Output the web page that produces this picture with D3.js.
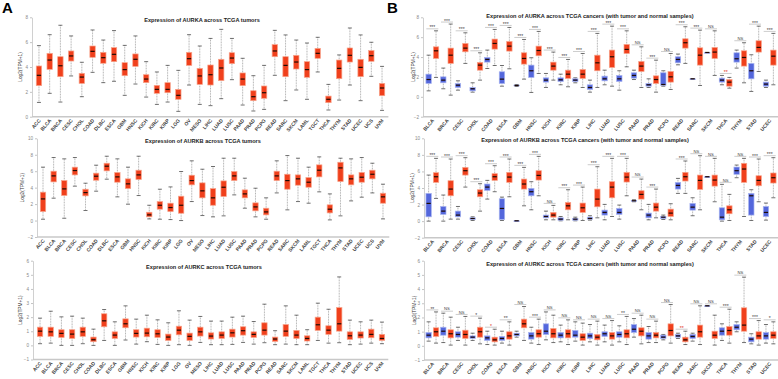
<!DOCTYPE html>
<html><head><meta charset="utf-8">
<script src="https://cdn.jsdelivr.net/npm/d3@7"></script>
<style>body{margin:0;background:#fff}svg{display:block}</style>
</head><body><svg id="c" width="778" height="379"></svg>
<script>
// ---------- categories ----------
const catsA = ["ACC","BLCA","BRCA","CESC","CHOL","COAD","DLBC","ESCA","GBM","HNSC","KICH","KIRC","KIRP","LGG","OV","MESO","LIHC","LUAD","LUSC","PAAD","PRAD","PCPG","READ","SARC","SKCM","LAML","TGCT","THCA","THYM","STAD","UCEC","UCS","UVM"];
const catsB = ["BLCA","BRCA","CESC","CHOL","COAD","ESCA","GBM","HNSC","KICH","KIRC","KIRP","LIHC","LUAD","LUSC","PAAD","PRAD","PCPG","READ","SARC","SKCM","THCA","THYM","STAD","UCEC"];
const yTicksA = [0,2,4,6,8];
const yTicksB = [-2,0,2,4,6,8,10];
const yTicksC = [-1,0,1,2,3,4,5,6];

// each box: [lower whisker, Q1, median, Q3, upper whisker]
const aurkaTumors = [[1.15,2.5,3.33,4.08,5.72],[1.88,3.81,4.56,5.1,6.6],[1.18,3.22,4.1,4.83,7.36],[3.28,4.48,4.89,5.29,6.5],[1.61,2.68,3.19,3.49,4.38],[3.57,4.78,5.26,5.69,6.98],[2.74,4.3,4.75,5.18,6.17],[2.85,4.43,5.02,5.56,6.93],[1.72,3.3,3.79,4.35,5.74],[2.63,4.05,4.62,5.05,6.5],[1.58,2.74,3.03,3.38,4.43],[0.99,1.88,2.2,2.52,3.6],[1.18,1.93,2.2,2.74,4.13],[0.43,1.4,1.72,2.2,3.73],[2.55,4.13,4.67,5.18,6.6],[0.99,2.6,3.28,3.89,5.69],[0.89,2.55,3.38,4.16,6.3],[1.45,2.9,3.92,4.62,7.03],[2.98,4.27,4.72,5.15,6.3],[0.94,2.5,3.03,3.52,4.7],[0.46,1.29,1.61,2.09,3.3],[0.59,1.48,1.93,2.47,4.13],[3.33,4.83,5.29,5.8,6.95],[1.29,3.22,4.13,4.83,6.58],[2.15,3.84,4.4,4.94,6.17],[1.4,3.17,3.79,4.43,5.93],[3.6,4.7,5.1,5.5,6.39],[0.54,1.13,1.4,1.66,2.6],[1.34,3.06,3.89,4.56,4.97],[2.55,4.4,4.94,5.53,7.14],[1.29,3.22,3.97,4.62,6.58],[3.25,4.46,4.91,5.32,5.99],[0.51,1.69,2.31,2.68,4.05]];
const aurkbTumors = [[0.16,1.09,2.63,3.45,6.49],[2.72,4.7,5.43,6.0,7.66],[0.28,3.04,3.85,4.86,7.5],[4.18,5.55,6.08,6.49,7.66],[1.22,3.0,3.4,3.81,4.54],[3.57,4.9,5.39,5.76,6.73],[5.03,6.04,6.61,6.97,7.82],[2.88,4.66,5.31,5.84,7.5],[1.99,3.89,4.46,5.07,6.49],[3.04,4.99,5.55,6.12,7.82],[0.2,0.45,0.69,1.01,1.86],[0.16,1.38,1.86,2.31,3.81],[0.12,1.09,1.58,2.11,4.09],[0,0.89,1.86,2.96,5.96],[2.31,4.34,4.86,5.51,7.26],[0.61,2.76,3.61,4.58,6.24],[0.45,1.86,2.76,3.89,6.57],[0.57,2.92,4.05,4.82,7.58],[3.12,4.86,5.43,5.96,7.58],[1.5,2.76,3.24,3.73,5.15],[0.45,1.18,1.66,2.15,3.93],[0.16,0.69,1.05,1.5,2.76],[3.36,4.86,5.43,6.0,7.26],[1.3,3.81,4.86,5.63,7.9],[2.31,4.3,5.07,5.55,7.58],[2.11,4.05,4.66,5.23,6.49],[3.49,5.31,6.12,6.77,7.74],[0.08,0.93,1.38,1.91,3.24],[0.57,4.74,6.4,7.09,7.58],[2.39,4.34,5.07,5.55,7.5],[2.84,4.66,5.27,5.84,7.66],[3.36,5.07,5.63,6.12,6.97],[0.2,2.11,2.88,3.32,4.42]];
const aurkcTumors = [[0.12,0.64,1.01,1.29,1.93],[0.16,0.64,0.96,1.29,2.42],[0,0.56,0.85,1.11,2.02],[0,0.49,0.8,1.11,2.07],[0.12,0.64,0.96,1.29,1.93],[0,0.26,0.4,0.59,1.15],[0.35,1.32,1.74,2.24,2.54],[0,0.49,0.73,0.96,1.67],[0.38,1.25,1.53,1.88,2.8],[0.09,0.59,0.85,1.11,1.86],[0.26,0.61,0.87,1.22,2.14],[0.07,0.56,0.82,1.11,1.81],[0,0.35,0.59,0.8,1.6],[0.05,0.75,1.08,1.36,2.45],[0,0.35,0.64,0.87,1.79],[0.21,0.66,0.96,1.29,2.05],[0.05,0.45,0.66,0.89,1.72],[0.05,0.49,0.73,0.96,1.72],[0.07,0.59,0.89,1.15,2.0],[0.21,0.73,1.04,1.32,2.07],[0.09,0.56,0.78,0.96,1.69],[0.19,0.73,1.08,1.6,2.92],[0.05,0.28,0.45,0.59,1.04],[0.09,0.64,1.01,1.48,2.8],[0.05,0.49,0.73,1.06,2.14],[0.05,0.31,0.49,0.68,1.11],[0.35,1.06,1.46,2.0,2.99],[0.16,0.78,1.08,1.39,2.56],[0.19,1.01,1.53,2.68,4.85],[0.05,0.42,0.68,0.96,1.79],[0.09,0.52,0.73,0.96,1.67],[0.16,0.54,0.78,1.15,1.79],[0.12,0.35,0.49,0.78,1.65]];

const aurkaNormal = [[0.6,1.34,1.74,2.28,4.19],[0.81,1.41,1.68,2.01,2.89],[0.67,0.94,1.17,1.34,1.61],[0.47,0.6,0.81,0.94,1.41],[2.85,3.49,3.76,3.96,4.7],[1.07,1.34,1.78,2.52,3.15],[1.04,1.1,1.14,1.18,1.24],[0.44,1.95,2.62,3.19,3.93],[0.94,1.48,1.68,1.91,2.35],[1.21,1.54,1.71,1.91,2.28],[1.41,1.54,1.68,1.81,1.91],[0.47,0.74,0.94,1.21,1.68],[1.21,1.61,1.81,2.08,2.68],[0.67,1.54,1.81,2.15,2.62],[1.74,1.88,2.15,2.42,2.68],[0.94,1.07,1.21,1.34,1.81],[1.07,1.17,1.24,2.42,2.62],[3.22,3.42,3.76,4.03,4.3],[1.81,1.81,1.81,1.81,1.81],[4.46,4.46,4.46,4.46,4.46],[1.21,1.48,1.68,1.88,2.15],[2.89,3.49,3.83,4.43,4.7],[0.54,1.81,2.62,3.36,4.23],[0.94,1.07,1.28,1.48,1.68]];
const aurkaTumor = [[1.95,3.86,4.63,5.03,6.64],[0.17,3.36,4.19,4.9,7.32],[3.36,4.53,4.9,5.37,6.44],[1.68,2.68,3.19,3.46,4.43],[3.15,4.8,5.37,5.81,6.78],[2.82,4.6,5.1,5.57,6.98],[1.78,3.29,3.86,4.43,5.77],[2.35,4.13,4.66,5.1,6.58],[1.68,2.68,3.09,3.49,4.5],[1.01,1.85,2.28,2.68,3.76],[0.94,1.85,2.28,2.75,4.36],[0.94,2.62,3.42,4.19,6.38],[1.07,2.95,4.03,4.7,7.11],[3.02,4.36,4.77,5.27,6.64],[0.94,2.55,3.09,3.56,5.03],[0.47,1.34,1.74,2.11,3.69],[0.74,1.48,2.01,2.55,4.36],[3.36,4.9,5.44,5.84,7.05],[1.14,3.19,4.19,4.93,6.71],[2.15,3.86,4.5,4.97,6.64],[0.87,1.07,1.48,1.74,1.95],[1.41,3.09,3.96,4.63,5.44],[2.55,4.5,4.97,5.64,7.11],[1.21,3.19,4.09,4.7,6.38]];
const aurkaSig = ["***","***","***","***","***","***","***","***","***","***","***","***","***","***","NS","***","NS","***","***","NS","**","NS","***","***"];

const aurkbNormal = [[0,0.52,2.14,3.35,5.56],[0,0.81,1.21,1.77,3.15],[0.24,0.52,0.73,1.21,1.77],[0.08,0.2,0.32,0.4,0.52],[2.66,3.71,4.11,4.48,4.92],[0.08,0.2,1.53,2.7,2.9],[0.04,0.04,0.04,0.04,0.04],[1.37,3.06,3.55,3.95,4.76],[0.16,0.4,0.56,0.73,1.21],[0.04,0.12,0.24,0.4,0.56],[0.04,0.12,0.24,0.32,0.48],[0.12,0.24,0.32,0.48,0.65],[0.16,0.73,1.05,1.33,2.02],[0.24,0.81,1.05,1.53,1.94],[2.34,2.42,2.46,2.5,2.58],[0.16,0.4,0.73,0.97,2.02],[0.2,0.32,0.48,0.56,0.73],[3.35,3.87,4.31,4.68,5.16],[0.65,1.33,1.69,2.14,2.82],[5.36,5.36,5.36,5.36,5.36],[0,0.16,0.48,1.61,4.44],[5.24,5.65,6.09,6.53,6.77],[0.08,0.73,3.06,3.35,3.79],[0.12,0.56,1.05,1.77,2.18]];
const aurkbTumor = [[2.74,4.68,5.36,5.85,7.58],[0.24,3.06,3.87,4.88,7.5],[4.11,5.56,6.09,6.49,7.66],[1.21,2.94,3.39,3.79,4.52],[3.55,4.92,5.36,5.73,6.69],[2.94,4.68,5.32,5.89,7.5],[1.85,3.87,4.48,5.08,6.49],[3.06,4.96,5.52,6.09,7.82],[0.16,0.48,0.73,1.05,1.9],[0.16,1.37,1.85,2.26,3.79],[0.08,1.05,1.61,2.18,4.11],[0.4,1.73,2.66,3.87,6.57],[0.56,2.82,4.11,4.76,7.58],[3.06,4.72,5.32,5.89,7.58],[1.37,2.66,3.23,3.67,5.08],[0.4,1.21,1.69,2.18,3.87],[0.16,0.56,0.97,1.45,2.1],[3.35,4.84,5.36,5.89,7.26],[1.37,3.83,4.92,5.56,7.9],[2.34,4.23,4.96,5.56,7.58],[0.08,0.89,1.37,1.85,3.23],[0.56,4.68,6.29,6.98,7.58],[2.34,4.27,4.92,5.48,7.5],[2.82,4.6,5.24,5.81,7.66]];
const aurkbSig = ["***","***","***","***","***","***","***","***","NS","***","***","***","***","***","NS","***","","***","NS","NS","NS","NS","***","***"];

const aurkcNormal = [[0.33,0.56,0.75,0.94,1.69],[0.23,0.75,1.03,1.31,2.3],[0.38,0.61,0.8,0.99,1.31],[0.38,0.52,0.61,0.7,0.89],[0.09,0.38,0.56,0.7,1.03],[0.19,0.38,0.52,0.66,1.03],[0.61,0.7,0.8,0.89,1.03],[0.19,0.47,0.7,0.94,1.31],[0.42,0.8,1.03,1.55,2.39],[0.28,0.56,0.75,0.94,1.46],[0.33,0.61,0.75,1.08,1.69],[0.28,0.52,0.7,0.89,1.5],[0.28,0.66,0.85,0.99,1.46],[0.28,0.61,0.8,0.99,1.41],[0.61,0.94,1.17,1.5,1.92],[0.23,0.47,0.7,0.94,1.36],[0.42,0.52,0.61,0.75,0.8],[0.52,0.61,0.7,0.8,0.89],[0.33,0.52,0.66,0.8,0.89],[2.82,2.82,2.82,2.82,2.82],[0.38,0.75,1.03,1.27,1.55],[0.99,1.13,1.31,1.5,1.69],[0.14,0.28,0.47,0.61,0.85],[0.19,0.47,0.7,0.94,1.5]];
const aurkcTumor = [[0.19,0.66,0.99,1.27,2.39],[0.05,0.56,0.85,1.13,2.02],[0.05,0.52,0.8,1.1,2.07],[0.14,0.61,0.99,1.31,1.95],[0.05,0.28,0.42,0.61,1.17],[0.05,0.47,0.7,0.99,1.69],[0.38,1.27,1.55,1.88,2.77],[0.09,0.61,0.85,1.13,1.88],[0.23,0.56,0.85,1.22,2.16],[0.09,0.56,0.85,1.13,1.83],[0.05,0.38,0.61,0.85,1.6],[0.05,0.42,0.61,0.8,1.74],[0.05,0.47,0.7,0.94,1.78],[0.09,0.56,0.85,1.13,2.07],[0.14,0.7,1.03,1.27,2.16],[0.23,0.56,0.75,0.94,1.74],[0.19,0.7,1.08,1.55,2.91],[0.09,0.28,0.42,0.61,1.03],[0.09,0.61,0.99,1.46,2.82],[0.05,0.52,0.75,1.03,2.16],[0.19,0.75,1.08,1.36,2.58],[0.23,1.03,1.46,2.68,4.84],[0.05,0.47,0.7,0.99,1.78],[0.14,0.52,0.75,0.99,1.69]];
const aurkcSig = ["**","NS","NS","*","*","**","NS","***","NS","NS","NS","NS","NS","**","NS","NS","NS","**","NS","NS","***","NS","***","*"];

// ---------- styling ----------
const RED = "#f0401c", RED_S = "#f8a48c", BLUE = "#5467dc", BLUE_S = "#a8b4f0";
const FONT = "'Liberation Sans', Arial, sans-serif";
const svg = d3.select("#c");

function drawBox(g, cx, w, d, y, fill, stroke) {
  const [lo, q1, med, q3, hi] = d;
  g.append("line").attr("x1", cx).attr("x2", cx).attr("y1", y(hi)).attr("y2", y(lo))
    .attr("stroke", "#8a8a8a").attr("stroke-width", 0.7).attr("stroke-dasharray", "0.9,0.7");
  [lo, hi].forEach(v => g.append("line").attr("x1", cx - 2).attr("x2", cx + 2).attr("y1", y(v)).attr("y2", y(v))
    .attr("stroke", "#333").attr("stroke-width", 0.7));
  const top = y(q3), h = Math.max(y(q1) - y(q3), 0.8);
  g.append("rect").attr("x", cx - w / 2).attr("y", top).attr("width", w).attr("height", h)
    .attr("fill", fill).attr("stroke", stroke).attr("stroke-width", 0.7);
  g.append("line").attr("x1", cx - w / 2 + 0.6).attr("x2", cx + w / 2 - 0.6).attr("y1", y(med)).attr("y2", y(med))
    .attr("stroke", "#1e0a04").attr("stroke-width", 1.2);
}

function panel(cfg) {
  const g = svg.append("g");
  const x = d3.scaleBand().domain(cfg.cats).range(cfg.xr);
  const y = d3.scaleLinear().domain(cfg.yd).range(cfg.yr);
  const ax = g.append("g").attr("transform", `translate(${cfg.ax},0)`)
    .call(d3.axisLeft(y).tickValues(cfg.ticks).tickSize(2).tickSizeOuter(0).tickPadding(2).tickFormat(d3.format("d")));
  ax.select(".domain").attr("stroke", "#c4c4c4").attr("stroke-width", 0.8);
  ax.selectAll(".tick line").attr("stroke", "#c4c4c4");
  ax.selectAll("text").attr("font-size", 4.6).attr("fill", "#888").attr("font-family", FONT);
  g.append("line").attr("x1", cfg.ax).attr("x2", cfg.xr[1] + 1).attr("y1", y(cfg.yd[0])).attr("y2", y(cfg.yd[0]))
    .attr("stroke", "#c8c8c8").attr("stroke-width", 1.6);
  g.append("text").attr("transform", `translate(${cfg.ax - cfg.ylOff},${(cfg.yr[0] + cfg.yr[1]) / 2}) rotate(-90)`)
    .attr("text-anchor", "middle").attr("font-size", 4.8).attr("font-family", FONT).attr("fill", "#333").text("Log2(TPM+1)");
  g.append("text").attr("x", cfg.tx).attr("y", cfg.ty).attr("text-anchor", "middle").attr("font-size", 5.6)
    .attr("font-weight", "bold").attr("font-family", FONT).attr("fill", "#222").text(cfg.title);
  cfg.cats.forEach(c => {
    const cx = x(c) + x.bandwidth() / 2;
    g.append("text").attr("transform", `translate(${cx + 2},${y(cfg.yd[0]) + 4}) rotate(-50)`)
      .attr("text-anchor", "end").attr("font-size", 5).attr("font-weight", "bold").attr("font-family", FONT)
      .attr("fill", "#444").text(c);
  });
  return { g, x, y };
}

function panelA(cfg, data) {
  const { g, x, y } = panel(cfg);
  cfg.cats.forEach((c, i) => drawBox(g, x(c) + x.bandwidth() / 2, 5.4, data[i], y, RED, RED_S));
}

function panelB(cfg, normal, tumor, sig) {
  const { g, x, y } = panel(cfg);
  cfg.cats.forEach((c, i) => {
    const cx = x(c) + x.bandwidth() / 2;
    drawBox(g, cx - 3.7, 5.4, normal[i], y, BLUE, BLUE_S);
    drawBox(g, cx + 3.7, 5.4, tumor[i], y, RED, RED_S);
    if (sig[i]) {
      const down = tumor[i][2] < normal[i][2] && sig[i] !== "NS";
      const by = y(Math.max(normal[i][4], tumor[i][4])) - 2;
      g.append("line").attr("x1", cx - 6).attr("x2", cx + 6).attr("y1", by).attr("y2", by)
        .attr("stroke", "#aaa").attr("stroke-width", 0.6);
      g.append("text").attr("x", cx).attr("y", by - (sig[i] === "NS" ? 0.8 : -0.6)).attr("text-anchor", "middle")
        .attr("font-size", sig[i] === "NS" ? 4.2 : 5).attr("font-family", FONT)
        .attr("fill", down ? "#e03020" : "#444").text(sig[i]);
    }
  });
}

panelA({ cats: catsA, xr: [33.6, 387.4], yd: [0, 8], yr: [116.7, 17.3], ticks: yTicksA, ax: 32, ylOff: 10,
  title: "Expression of AURKA across TCGA tumors", tx: 202, ty: 21.5 }, aurkaTumors);
panelA({ cats: catsA, xr: [37.7, 388.3], yd: [-2, 10], yr: [237, 138.3], ticks: yTicksB, ax: 37, ylOff: 13,
  title: "Expression of AURKB across TCGA tumors", tx: 203, ty: 143 }, aurkbTumors);
panelA({ cats: catsA, xr: [34.7, 387.3], yd: [-1, 6], yr: [359.5, 260.7], ticks: yTicksC, ax: 33, ylOff: 11,
  title: "Expression of AURKC across TCGA tumors", tx: 204, ty: 269 }, aurkcTumors);

panelB({ cats: catsB, xr: [425, 777], yd: [-2, 8], yr: [116.7, 17.3], ticks: [-2,0,2,4,6,8], ax: 423, ylOff: 8,
  title: "Expression of AURKA across TCGA cancers (with tumor and normal samples)", tx: 590, ty: 17.5 }, aurkaNormal, aurkaTumor, aurkaSig);
panelB({ cats: catsB, xr: [425, 777], yd: [-2, 10], yr: [237.7, 138.3], ticks: yTicksB, ax: 424, ylOff: 10,
  title: "Expression of AURKB across TCGA cancers (with tumor and normal samples)", tx: 585, ty: 142 }, aurkbNormal, aurkbTumor, aurkbSig);
panelB({ cats: catsB, xr: [425, 777], yd: [-1, 6], yr: [360, 260.7], ticks: yTicksC, ax: 424, ylOff: 8,
  title: "Expression of AURKC across TCGA cancers (with tumor and normal samples)", tx: 590, ty: 266 }, aurkcNormal, aurkcTumor, aurkcSig);

svg.append("text").attr("x", 2).attr("y", 13).attr("font-size", 15).attr("font-weight", "bold").attr("font-family", FONT).text("A");
svg.append("text").attr("x", 387).attr("y", 13).attr("font-size", 15).attr("font-weight", "bold").attr("font-family", FONT).text("B");
</script>
</body></html>
